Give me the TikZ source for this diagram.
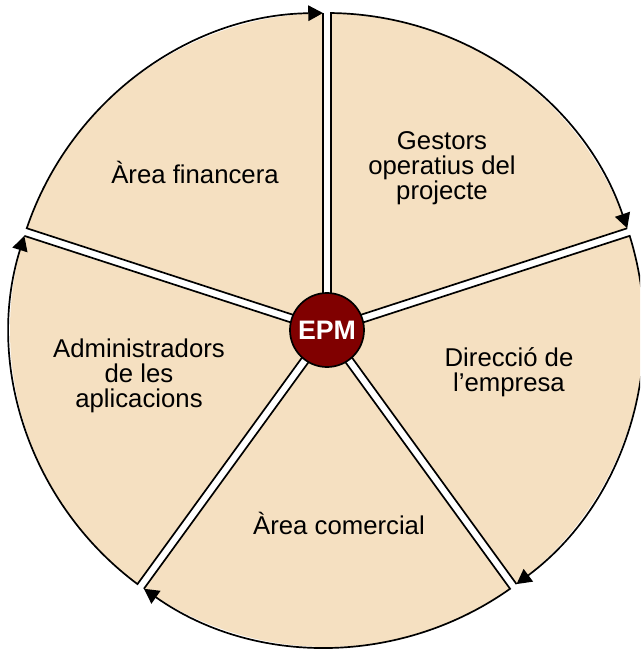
\documentclass[tikz,border=0pt]{standalone}
\usepackage{fontspec}
\setmainfont{Liberation Sans}
\usetikzlibrary{arrows.meta}
\definecolor{sectorbeige}{RGB}{245,224,193}
\definecolor{epmred}{RGB}{128,0,0}

\begin{document}
\begin{tikzpicture}[x=0.025cm,y=0.025cm,
		sector/.style={fill=sectorbeige},
		rim/.style={line width=1.2pt,line join=miter,-{Triangle[length=10.5pt,width=11pt]}},
		label/.style={align=center,font=\fontsize{18.3pt}{18pt}\selectfont}]
				\clip (-327,-321) rectangle (313,330);
				% sectors, clockwise from the top
				\fill[sector] (54:6.8) -- (89.28:317) arc[start angle=89.28,end angle=18.72,radius=317] -- cycle;
				\draw[rim] (18.72:317) -- (54:6.8) -- (89.28:317) arc[start angle=89.28,end angle=18.72,radius=317];
				\fill[sector] (-18:6.8) -- (17.28:317) arc[start angle=17.28,end angle=-53.28,radius=317] -- cycle;
				\draw[rim] (-53.28:317) -- (-18:6.8) -- (17.28:317) arc[start angle=17.28,end angle=-53.28,radius=317];
				\fill[sector] (-90:6.8) -- (-54.72:317) arc[start angle=-54.72,end angle=-125.28,radius=317] -- cycle;
				\draw[rim] (-125.28:317) -- (-90:6.8) -- (-54.72:317) arc[start angle=-54.72,end angle=-125.28,radius=317];
				\fill[sector] (-162:6.8) -- (-126.72:317) arc[start angle=-126.72,end angle=-197.28,radius=317] -- cycle;
				\draw[rim] (-197.28:317) -- (-162:6.8) -- (-126.72:317) arc[start angle=-126.72,end angle=-197.28,radius=317];
				\fill[sector] (126:6.8) -- (161.28:317) arc[start angle=161.28,end angle=90.72,radius=317] -- cycle;
				\draw[rim] (90.72:317) -- (126:6.8) -- (161.28:317) arc[start angle=161.28,end angle=90.72,radius=317];
				% labels
				\node[label] (gestors) at (115,162) {Gestors\\operatius del\\projecte};
				\node[label] (direccio) at (182,-42) {Direcció de\\l’empresa};
				\node[label] (comercial) at (12,-193) {Àrea comercial};
				\node[label] (admin) at (-188,-46) {Administradors\\de les\\aplicacions};
				\node[label] (financera) at (-132,158) {Àrea financera};
				% centre
				\node[circle,draw=black,line width=1.2pt,fill=epmred,minimum size=1.85cm,inner sep=0pt,
					text=white,font=\fontsize{19pt}{22pt}\selectfont\bfseries] (epm) at (0,0) {EPM};
			\end{tikzpicture}
\end{document}
